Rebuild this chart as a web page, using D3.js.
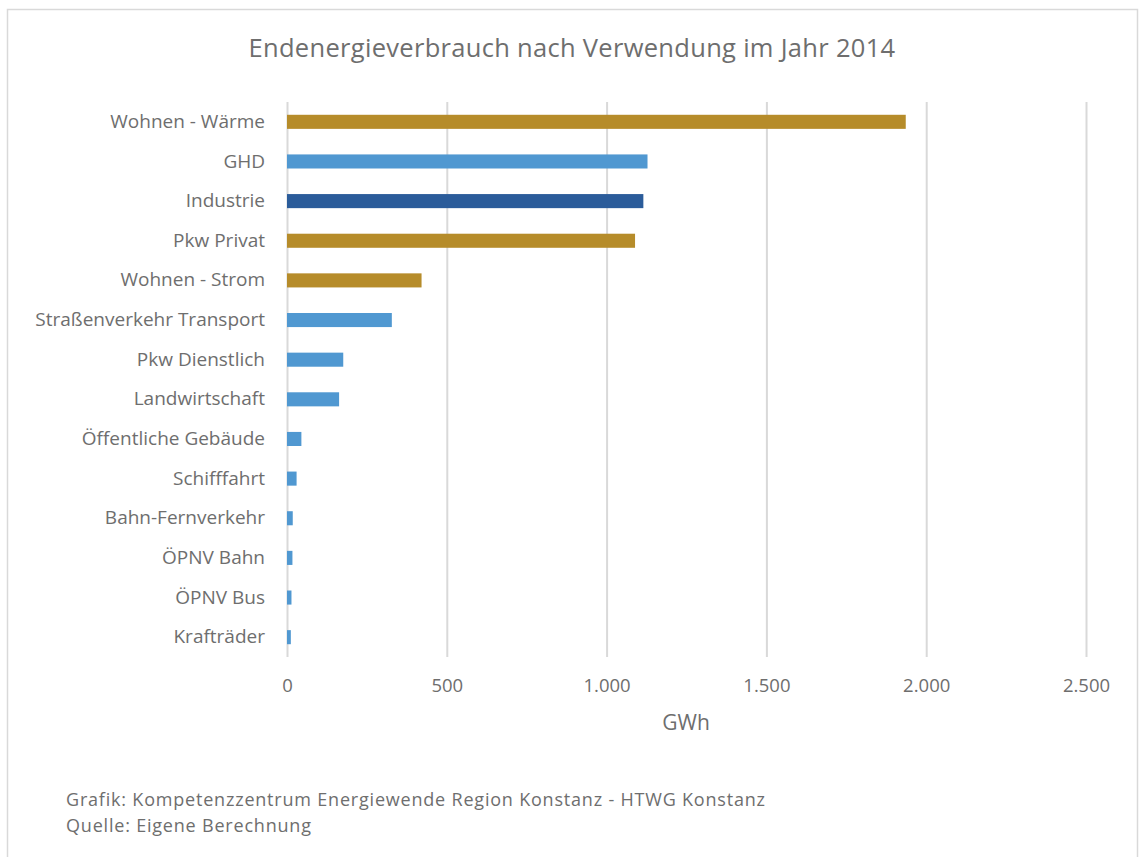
<!DOCTYPE html>
<html><head><meta charset="utf-8">
<script src="https://cdn.jsdelivr.net/npm/d3@7"></script>
<style>body{margin:0;background:#fff}svg{display:block}text{font-family:"Open Sans",Lato,sans-serif}</style>
</head><body>
<svg id="c" width="1139" height="857"></svg>
<script>
const categories = ["Wohnen - Wärme","GHD","Industrie","Pkw Privat","Wohnen - Strom","Straßenverkehr Transport","Pkw Dienstlich","Landwirtschaft","Öffentliche Gebäude","Schifffahrt","Bahn-Fernverkehr","ÖPNV Bahn","ÖPNV Bus","Krafträder"];
const values = [1936,1128,1115,1089,421,328,176,163,45,30,18,17,14,12];
const groups = ["Haushalte","Wirtschaft","Industrie","Haushalte","Haushalte","Wirtschaft","Wirtschaft","Wirtschaft","Wirtschaft","Wirtschaft","Wirtschaft","Wirtschaft","Wirtschaft","Wirtschaft"];
const groupColors = {"Haushalte":"#B68C2A","Wirtschaft":"#5098D1","Industrie":"#2B5C9A"};
const tickValues = [0,500,1000,1500,2000,2500];
const title = "Endenergieverbrauch nach Verwendung im Jahr 2014";
const xTitle = "GWh";
const footer = ["Grafik: Kompetenzzentrum Energiewende Region Konstanz - HTWG Konstanz","Quelle: Eigene Berechnung"];

const svg = d3.select("#c");
const textCol = "#6e6e6e";
svg.append("rect").attr("x",7.5).attr("y",9.5).attr("width",1130).attr("height",860).attr("fill","#fff").attr("stroke","#d9d9d9").attr("stroke-width",1.5);

const x = d3.scaleLinear().domain([0,2500]).range([287,1086]);
const y = d3.scaleBand().domain(categories).range([102,657]).paddingInner(0.645).paddingOuter(0.3225);

const fmt = d => d3.format(",")(d).replace(/,/g,".");
const gx = svg.append("g").attr("transform","translate(0,657)")
  .call(d3.axisBottom(x).tickValues(tickValues).tickSize(-555).tickFormat(fmt).tickPadding(22));
gx.select(".domain").remove();
gx.selectAll(".tick line").attr("stroke","#d9d9d9").attr("stroke-width",2);
gx.selectAll(".tick text").attr("fill",textCol).style("font-size","18.5px");

svg.append("g").selectAll("rect").data(categories).join("rect")
  .attr("x",x(0)).attr("y",d=>y(d)).attr("height",y.bandwidth())
  .attr("width",(d,i)=>x(values[i])-x(0))
  .attr("fill",(d,i)=>groupColors[groups[i]]);

const gy = svg.append("g").attr("transform","translate(287,0)")
  .call(d3.axisLeft(y).tickSize(0).tickPadding(22));
gy.select(".domain").remove();
gy.selectAll(".tick text").attr("fill",textCol).style("font-size","19px");

svg.append("text").attr("x",572).attr("y",57).attr("text-anchor","middle").attr("fill",textCol).style("font-size","25.5px").style("letter-spacing","0.3px").text(title);
svg.append("text").attr("x",686).attr("y",730).attr("text-anchor","middle").attr("fill",textCol).style("font-size","21px").text(xTitle);
svg.append("g").selectAll("text").data(footer).join("text")
  .attr("x",66).attr("y",(d,i)=>806+i*26).attr("fill",textCol).style("font-size","18px").style("letter-spacing","0.8px").text(d=>d);
</script>
</body></html>
